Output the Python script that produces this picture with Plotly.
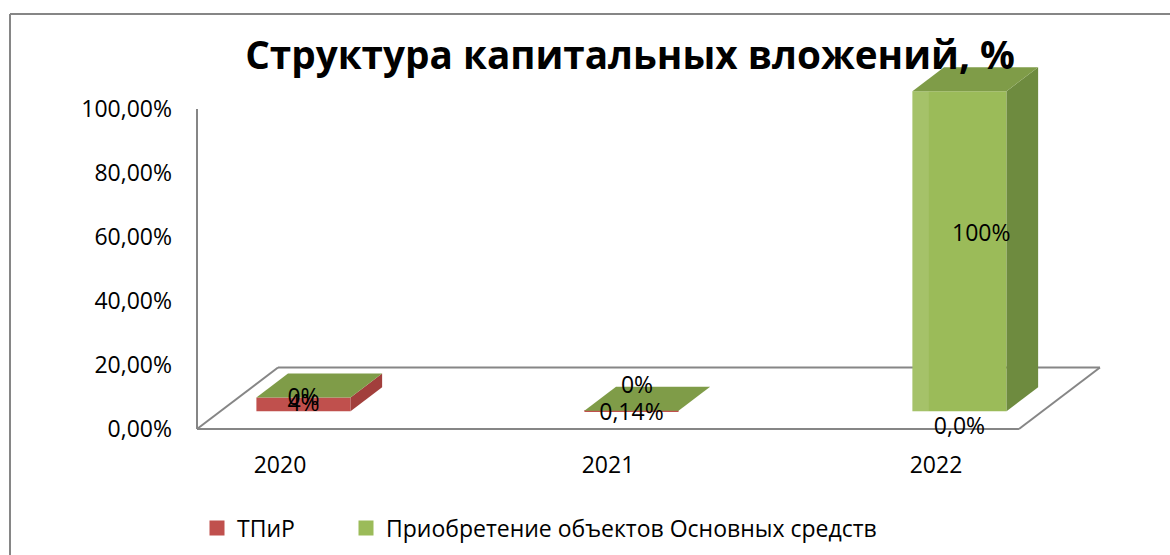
import plotly.graph_objects as go

# ---- data ----
years = ["2020", "2021", "2022"]
tpir = [4.3, 0.14, 0.0]
fixed_assets = [0.0, 0.0, 100.0]
tpir_labels = ["4%", "0,14%", "0,0%"]
fixed_labels = ["0%", "0%", "100%"]
y_ticks = [0, 20, 40, 60, 80, 100]
y_tick_labels = ["0,00%", "20,00%", "40,00%", "60,00%", "80,00%", "100,00%"]
series_names = ["ТПиР", "Приобретение объектов Основных средств"]

# ---- pseudo-3D projection parameters (axis units) ----
W, H = 1170, 555
PX_X, PX_Y = 328.0, 3.2           # pixels per axis unit
FLOOR_PX_L, FLOOR_PX_B = 197, 429
PLOT_L, PLOT_R, PLOT_B, PLOT_T = 190, 1110, 435, 50
FLOOR_X0, FLOOR_X1 = -0.253, 2.253
SHEAR_X, SHEAR_Y = 81 / PX_X, 61.5 / PX_Y   # shift of one full floor depth
BAR_HALF = 0.1435
D0, D1 = 0.29, 0.68                # front and back of the bars, in floor depth


def proj(x, z, d):
    return x + d * SHEAR_X, z + d * SHEAR_Y


RED = "#C0504D"
RED_SIDE = "#A23F3C"
GREEN = "#9BBB59"
GREEN_TOP = "#7F9C48"
GREEN_SIDE = "#6E8B3F"
GREY = "#868686"
FONT = "'Open Sans', 'Noto Sans', sans-serif"
TEXT_SIZE = 23


def poly(points, color):
    xs = [p[0] for p in points] + [points[0][0]]
    ys = [p[1] for p in points] + [points[0][1]]
    return go.Scatter(x=xs, y=ys, mode="lines", fill="toself", fillcolor=color,
                      line=dict(width=0, color=color), hoverinfo="skip", showlegend=False)


fig = go.Figure()
cx = list(range(len(years)))
front_x = [proj(c, 0, D0)[0] for c in cx]
base_z = proj(0, 0, D0)[1]

# front faces: real bars, stacked on a base that carries the depth offset
fig.add_trace(go.Bar(x=front_x, y=tpir, base=[base_z] * 3, width=2 * BAR_HALF,
                     marker=dict(color=RED, line=dict(width=0)), showlegend=False, hoverinfo="skip"))
fig.add_trace(go.Bar(x=front_x, y=fixed_assets, base=[base_z + v for v in tpir], width=2 * BAR_HALF,
                     marker=dict(color=GREEN, line=dict(width=0)), showlegend=False, hoverinfo="skip"))

# side and top faces
for c, r, g in zip(cx, tpir, fixed_assets):
    xr = c + BAR_HALF
    xl = c - BAR_HALF
    if r > 0.5:
        fig.add_trace(poly([proj(xr, 0, D0), proj(xr, 0, D1), proj(xr, r, D1), proj(xr, r, D0)], RED_SIDE))
    if g > 0.5:
        fig.add_trace(poly([proj(xr, r, D0), proj(xr, r, D1), proj(xr, r + g, D1), proj(xr, r + g, D0)], GREEN_SIDE))
        # lighter bevel on the left of the tall column
        fig.add_trace(poly([proj(xl, r, D0), proj(xl + 0.05, r, D0), proj(xl + 0.05, r + g, D0), proj(xl, r + g, D0)],
                           "rgba(255,255,255,0.10)"))
    t = r + g
    fig.add_trace(poly([proj(xl, t, D0), proj(xr, t, D0), proj(xr, t, D1), proj(xl, t, D1)], GREEN_TOP))

# data labels
lab_red_pos = [(0.0, 1.9), (0.0, -0.9), (0.0, -5.3)]
lab_green_pos = [(0.0, 3.8), (0.017, 7.5), (0.0665, 55.0)]
lab_x = [c + 0.0716 + dx for c, (dx, _) in zip(cx, lab_red_pos)]
lab_y = [base_z + dz for (_, dz) in lab_red_pos]
fig.add_trace(go.Scatter(x=lab_x, y=lab_y, mode="text", text=tpir_labels, textposition="middle center",
                         textfont=dict(family=FONT, size=TEXT_SIZE, color="#000000"), cliponaxis=False,
                         showlegend=False, hoverinfo="skip"))
lab_x = [c + 0.0716 + dx for c, (dx, _) in zip(cx, lab_green_pos)]
lab_y = [base_z + dz for (_, dz) in lab_green_pos]
fig.add_trace(go.Scatter(x=lab_x, y=lab_y, mode="text", text=fixed_labels, textposition="middle center",
                         textfont=dict(family=FONT, size=TEXT_SIZE, color="#000000"), cliponaxis=False,
                         showlegend=False, hoverinfo="skip"))

# legend entries (one legend per entry, to keep the wide spacing of the reference)
for name, color, legend_id in zip(series_names, [RED, GREEN], ["legend", "legend2"]):
    fig.add_trace(go.Scatter(x=[None], y=[None], mode="markers", name=name, legend=legend_id,
                             marker=dict(symbol="square", size=15, color=color)))

# floor and wall outlines, behind the bars
floor = [proj(FLOOR_X0, 0, 0), proj(FLOOR_X1, 0, 0), proj(FLOOR_X1, 0, 1), proj(FLOOR_X0, 0, 1)]
shapes = []
for a, b in zip(floor, floor[1:] + floor[:1]):
    shapes.append(dict(type="line", xref="x", yref="y", x0=a[0], y0=a[1], x1=b[0], y1=b[1],
                       line=dict(color=GREY, width=2), layer="below"))
shapes.append(dict(type="line", xref="x", yref="y", x0=FLOOR_X0, y0=0, x1=FLOOR_X0, y1=100,
                   line=dict(color=GREY, width=2), layer="below"))
# chart frame (left and top edges only are inside the picture)
shapes.append(dict(type="line", xref="paper", yref="paper", x0=10 / W, x1=10 / W, y0=0, y1=1 - 14 / H,
                   line=dict(color=GREY, width=2), layer="below"))
shapes.append(dict(type="line", xref="paper", yref="paper", x0=10 / W, x1=1, y0=1 - 14 / H, y1=1 - 14 / H,
                   line=dict(color=GREY, width=2), layer="below"))

legend_common = dict(orientation="h", xanchor="left", y=1 - 528 / H, yanchor="middle",
                     font=dict(family=FONT, size=TEXT_SIZE), itemwidth=30, bgcolor="rgba(0,0,0,0)")

fig.update_layout(
    width=W, height=H, autosize=False,
    margin=dict(l=0, r=0, t=0, b=0, autoexpand=False),
    paper_bgcolor="#FFFFFF", plot_bgcolor="rgba(0,0,0,0)",
    barmode="overlay",
    font=dict(family=FONT, size=TEXT_SIZE, color="#000000"),
    title=dict(text="<b>Структура капитальных вложений, %</b>",
               x=630 / W, xanchor="center", y=1 - 55 / H, yanchor="middle",
               font=dict(family=FONT, size=38.7, color="#000000")),
    xaxis=dict(domain=[PLOT_L / W, PLOT_R / W],
               range=[FLOOR_X0 - (FLOOR_PX_L - PLOT_L) / PX_X, FLOOR_X0 + (PLOT_R - FLOOR_PX_L) / PX_X],
               tickmode="array", tickvals=cx, ticktext=years,
               showgrid=False, zeroline=False, showline=False, ticks="",
               ticklabelstandoff=14, tickfont=dict(family=FONT, size=TEXT_SIZE)),
    yaxis=dict(domain=[1 - PLOT_B / H, 1 - PLOT_T / H],
               range=[-(PLOT_B - FLOOR_PX_B) / PX_Y, (FLOOR_PX_B - PLOT_T) / PX_Y],
               tickmode="array", tickvals=y_ticks, ticktext=y_tick_labels,
               showgrid=False, zeroline=False, showline=False, ticks="",
               ticklabelstandoff=17, tickfont=dict(family=FONT, size=TEXT_SIZE)),
    legend=dict(x=197 / W, **legend_common),
    legend2=dict(x=346 / W, **legend_common),
    shapes=shapes,
)

fig.write_html("out.html", config={"displayModeBar": False},
               post_script="document.body.style.margin='0';")
